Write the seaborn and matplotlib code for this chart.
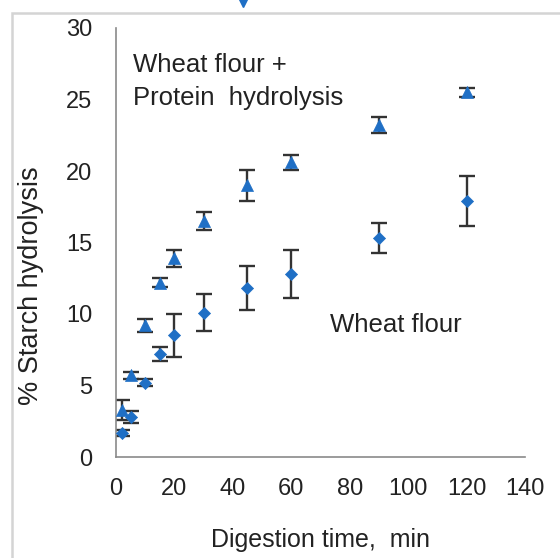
import numpy as np
import pandas as pd
import matplotlib
matplotlib.use("Agg")
import matplotlib.pyplot as plt
import seaborn as sns
from matplotlib.lines import Line2D
from matplotlib.patches import Rectangle

# -------------------------------
# DATA
# -------------------------------
time_min = [2, 5, 10, 15, 20, 30, 45, 60, 90, 120]

wheat_mean = [1.7, 2.8, 5.2, 7.2, 8.5, 10.1, 11.8, 12.8, 15.3, 17.9]
wheat_err = [0.2, 0.4, 0.25, 0.5, 1.5, 1.3, 1.55, 1.65, 1.05, 1.75]

protein_mean = [3.3, 5.7, 9.2, 12.2, 13.9, 16.5, 19.0, 20.6, 23.2, 25.5]
protein_err = [0.7, 0.25, 0.45, 0.3, 0.6, 0.6, 1.1, 0.55, 0.55, 0.3]

series_names = ["Wheat flour", "Wheat flour + Protein hydrolysis"]

x_ticks = [0, 20, 40, 60, 80, 100, 120, 140]
y_ticks = [0, 5, 10, 15, 20, 25, 30]

df = pd.DataFrame({
    "time": time_min * 2,
    "value": wheat_mean + protein_mean,
    "err": wheat_err + protein_err,
    "series": [series_names[0]] * len(time_min) + [series_names[1]] * len(time_min),
})

# -------------------------------
# STYLE
# -------------------------------
sns.set_style("white")
plt.rcParams["font.family"] = ["Liberation Sans", "DejaVu Sans"]

blue = "#1f6fc5"
text_col = "#222222"
axis_col = "#8a8a8a"

fig = plt.figure(figsize=(5.6, 5.58), dpi=100)
ax = fig.add_axes([116 / 560, 1 - 457 / 558, (525 - 116) / 560, (457 - 28) / 558])

# error bars first, markers on top
for name in series_names:
    sub = df[df["series"] == name]
    ax.errorbar(sub["time"], sub["value"], yerr=sub["err"], fmt="none",
                ecolor="#333333", elinewidth=1.7, capsize=5.8, capthick=1.7, zorder=2)

marker_map = {series_names[0]: ("D", 38), series_names[1]: ("^", 75)}
for name in series_names:
    mk, size = marker_map[name]
    sns.scatterplot(data=df[df["series"] == name], x="time", y="value",
                    marker=mk, color=blue, s=size, edgecolor=blue, linewidth=0.5,
                    legend=False, zorder=3, ax=ax)

# -------------------------------
# AXES
# -------------------------------
ax.set_xlim(0, 140)
ax.set_ylim(0, 30)
ax.set_xticks(x_ticks)
ax.set_yticks(y_ticks)
ax.tick_params(axis="both", direction="in", length=5, width=1.1, color=axis_col,
               labelsize=17, labelcolor=text_col)
ax.tick_params(axis="x", pad=15)
ax.tick_params(axis="y", pad=17)
for side in ["top", "right"]:
    ax.spines[side].set_visible(False)
for side in ["left", "bottom"]:
    ax.spines[side].set_color(axis_col)
    ax.spines[side].set_linewidth(1.2)

ax.set_xlabel("Digestion time,  min", fontsize=18, color=text_col, labelpad=20)
ax.set_ylabel("% Starch hydrolysis", fontsize=19.5, color=text_col)
ax.yaxis.set_label_coords(-0.176, 0.40)

ax.text(5.8, 26.9, "Wheat flour +", fontsize=18.5, color=text_col, va="baseline", ha="left")
ax.text(5.8, 24.65, "Protein  hydrolysis", fontsize=18.5, color=text_col, va="baseline", ha="left")
ax.text(73.3, 8.75, "Wheat flour", fontsize=18.5, color=text_col, va="baseline", ha="left")

# outer frame of the original figure (cropped)
fig.add_artist(Rectangle((12 / 560, -0.05), 1.1, 1 - 13 / 558 + 0.05,
                         transform=fig.transFigure, fill=False,
                         edgecolor="#d4d4d4", linewidth=1.8, clip_on=False))
# cropped marker peeking in at the top
fig.add_artist(Line2D([243 / 560], [1 - 1 / 558], transform=fig.transFigure,
                      marker="v", markersize=9, color=blue, linestyle="none"))

fig.savefig("out.png", dpi=100)
